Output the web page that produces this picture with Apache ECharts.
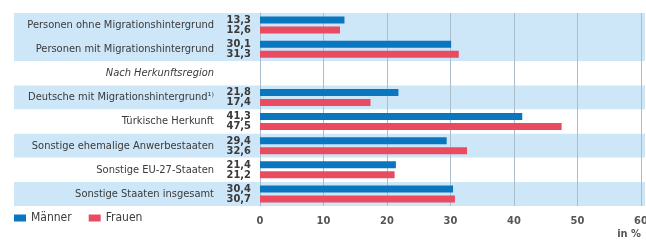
<!DOCTYPE html>
<html>
<head>
<meta charset="utf-8">
<script src="https://cdn.jsdelivr.net/npm/echarts@6/dist/echarts.min.js"></script>
<style>
  html, body { margin: 0; padding: 0; background: #fff; }
  #chart { width: 646px; height: 240px; }
</style>
</head>
<body>
<div id="chart"></div>
<script>
  var categories = [
    'Personen ohne Migrationshintergrund',
    'Personen mit Migrationshintergrund',
    'Nach Herkunftsregion',
    'Deutsche mit Migrationshintergrund¹⁾',
    'Türkische Herkunft',
    'Sonstige ehemalige Anwerbestaaten',
    'Sonstige EU-27-Staaten',
    'Sonstige Staaten insgesamt'
  ]
  var maenner = [13.3, 30.1, null, 21.8, 41.3, 29.4, 21.4, 30.4]
  var frauen = [12.6, 31.3, null, 17.4, 47.5, 32.6, 21.2, 30.7]
  var xTicks = [0, 10, 20, 30, 40, 50, 60]

  var FONT = '"Liberation Sans Narrow", "DejaVu Sans Condensed", sans-serif'
  var TEXT = '#3a3a3a'
  var BAND = '#cde6f8'
  var bandColors = [BAND, BAND, '#ffffff', BAND, '#ffffff', BAND, '#ffffff', BAND]

  function fmt (v) {
    return v == null ? '' : v.toFixed(1).replace('.', ',')
  }

  var chart = echarts.init(document.getElementById('chart'))
  chart.setOption({
    animation: false,
    textStyle: { fontFamily: FONT },
    color: ['#0b76c0', '#e94b60'],
    title: {
      text: 'in %',
      right: 5,
      bottom: 0,
      padding: 0,
      textStyle: { fontFamily: FONT, fontSize: 11, fontWeight: 'bold', color: '#555' }
    },
    legend: {
      left: 14,
      bottom: 16,
      padding: 0,
      icon: 'rect',
      itemWidth: 12,
      itemHeight: 7,
      itemGap: 17,
      textStyle: { fontFamily: FONT, fontSize: 12, color: TEXT }
    },
    grid: [
      { left: 14, right: 1, top: 13, bottom: 34, outerBoundsMode: 'none' },
      { left: 260, right: 5, top: 13, bottom: 34, outerBoundsMode: 'none' }
    ],
    xAxis: [
      { gridIndex: 0, type: 'value', show: false, min: 0, max: 1 },
      {
        gridIndex: 1,
        type: 'value',
        min: xTicks[0],
        max: xTicks[xTicks.length - 1],
        interval: 10,
        z: 2,
        axisLine: { show: false },
        axisTick: { show: false },
        splitLine: { show: true, lineStyle: { color: '#a9bdcd', width: 1 } },
        axisLabel: { margin: 10, fontSize: 11, fontWeight: 'bold', color: '#555', fontFamily: FONT }
      }
    ],
    yAxis: [
      {
        gridIndex: 0,
        type: 'category',
        inverse: true,
        data: categories,
        z: -1,
        axisLine: { show: false },
        axisTick: { show: false },
        axisLabel: { show: false },
        splitArea: { show: true, areaStyle: { color: bandColors } }
      },
      {
        gridIndex: 1,
        type: 'category',
        position: 'left',
        inverse: true,
        data: categories,
        z: 2,
        axisLine: { show: true, lineStyle: { color: '#a9bdcd' } },
        axisTick: { show: false },
        axisLabel: {
          margin: 46,
          formatter: function (v, i) {
            return i === 2 ? '{i|' + v + '}' : '{n|' + v + '}'
          },
          rich: {
            n: { fontFamily: FONT, fontSize: 11, color: TEXT },
            i: { fontFamily: FONT, fontSize: 11, color: TEXT, fontStyle: 'italic' }
          }
        }
      },
      {
        gridIndex: 1,
        type: 'category',
        position: 'left',
        offset: 0,
        inverse: true,
        data: categories,
        z: 2,
        axisLine: { show: false },
        axisTick: { show: false },
        axisLabel: {
          margin: 9,
          fontFamily: FONT,
          fontSize: 11,
          fontWeight: 'bold',
          lineHeight: 10,
          color: TEXT,
          formatter: function (v, i) {
            if (maenner[i] == null) return ''
            return fmt(maenner[i]) + '\n' + fmt(frauen[i])
          }
        }
      }
    ],
    series: [
      {
        name: 'Männer',
        type: 'bar',
        xAxisIndex: 1,
        yAxisIndex: 1,
        barWidth: 7,
        barGap: '43%',
        data: maenner
      },
      {
        name: 'Frauen',
        type: 'bar',
        xAxisIndex: 1,
        yAxisIndex: 1,
        barWidth: 7,
        barGap: '43%',
        data: frauen
      }
    ]
  })
</script>
</body>
</html>
